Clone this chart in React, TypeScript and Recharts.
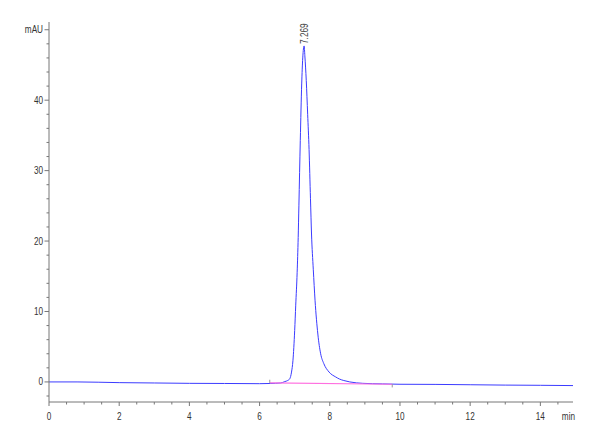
import { LineChart, Line, XAxis, YAxis, ReferenceDot, ReferenceLine } from 'recharts';

// chromatogram trace (min, mAU)
const traceTime = [
  0, 0.8, 2, 3, 4, 5, 6, 6.3, 6.6, 6.72, 6.8, 6.86, 6.91, 6.95, 7.0, 7.03, 7.07, 7.1, 7.12, 7.16, 7.2, 7.23, 7.269,
  7.29, 7.33, 7.37, 7.41, 7.45, 7.48, 7.53, 7.58, 7.66, 7.74, 7.83, 7.98, 8.17, 8.28, 8.4, 8.57, 8.94, 9.5,
  10, 11, 12, 13, 14, 14.93,
];
const traceAbs = [
  0, 0, -0.1, -0.15, -0.2, -0.22, -0.25, -0.22, -0.15, 0.05, 0.2, 0.45, 1.4, 3.0, 7.3, 10.9, 15.5, 20.5, 25, 34.3, 42.3, 46.0, 47.7,
  46.3, 42.8, 38, 33, 26, 21, 16, 11.6, 6.8, 4.0, 2.6, 1.4, 0.7, 0.4, 0.2, 0.0, -0.2, -0.28,
  -0.33, -0.35, -0.4, -0.45, -0.48, -0.52,
];

// integration baseline under the peak
const baselineTime = [6.29, 9.78];
const baselineAbs = [-0.14, -0.33];

const peakTime = 7.269;
const peakAbs = 47.7;
const peakName = '7.269';

const xTicks = [
  0, 0.5, 1, 1.5, 2, 2.5, 3, 3.5, 4, 4.5, 5, 5.5, 6, 6.5, 7, 7.5, 8, 8.5, 9, 9.5, 10, 10.5, 11, 11.5, 12, 12.5,
  13, 13.5, 14, 14.5, 14.8,
];
const xLabeled = [0, 2, 4, 6, 8, 10, 12, 14];
const xUnit = 'min';
const xUnitAt = 14.8;

const yTicks = [-2, 0, 2, 4, 6, 8, 10, 12, 14, 16, 18, 20, 22, 24, 26, 28, 30, 32, 34, 36, 38, 40, 42, 44, 46, 48, 50];
const yLabeled = [0, 10, 20, 30, 40];
const yUnit = 'mAU';
const yUnitAt = 50;

const trace = traceTime.map((t, i) => ({ t, y: traceAbs[i] }));
const baseline = baselineTime.map((t, i) => ({ t, y: baselineAbs[i] }));

const FONT = "'Liberation Sans', Arial, sans-serif";
const NARROW = 0.82; // squeeze text, no narrow font installed
const TEXT = '#333';
const AXIS = '#777';

function NarrowText({ x, y, anchor, children }: any) {
  return (
    <text
      transform={`translate(${x}, ${y}) scale(${NARROW}, 1)`}
      textAnchor={anchor}
      fontSize={10}
      fontFamily={FONT}
      fill={TEXT}
    >
      {children}
    </text>
  );
}

function XTick({ x, y, payload }: any) {
  const v = payload.value;
  if (v === xUnitAt) {
    return <NarrowText x={x} y={y + 18} anchor="middle">{xUnit}</NarrowText>;
  }
  const major = xLabeled.includes(v);
  return (
    <g>
      <line x1={x} y1={y} x2={x} y2={y + (major ? 4 : 2.5)} stroke={AXIS} />
      {major && <NarrowText x={x} y={y + 18} anchor="middle">{v}</NarrowText>}
    </g>
  );
}

function YTick({ x, y, payload }: any) {
  const v = payload.value;
  const major = yLabeled.includes(v) || v === yUnitAt;
  const label = v === yUnitAt ? yUnit : yLabeled.includes(v) ? String(v) : null;
  return (
    <g>
      <line x1={x} y1={y} x2={x - (major ? 4.5 : 2.5)} y2={y} stroke={AXIS} />
      {label && <NarrowText x={x - 6} y={y + 3.5} anchor="end">{label}</NarrowText>}
    </g>
  );
}

function PeakLabel({ cx, cy }: any) {
  return (
    <text
      transform={`translate(${cx + 3.5}, ${cy - 2}) rotate(-90) scale(${NARROW}, 1)`}
      fontSize={10}
      fontFamily={FONT}
      fill="#444"
    >
      {peakName}
    </text>
  );
}

export default function App() {
  return (
    <div style={{ position: 'absolute', left: 0, top: 0, width: 600, height: 440, background: '#fff' }}>
      <LineChart width={600} height={440} data={trace} margin={{ top: 22, right: 27, bottom: 0, left: 0 }}>
        <XAxis
          type="number"
          dataKey="t"
          domain={[0, 14.93]}
          ticks={xTicks}
          interval={0}
          height={38}
          stroke={AXIS}
          tickLine={false}
          tickSize={0}
          tickMargin={0}
          tick={<XTick />}
          allowDataOverflow
        />
        <YAxis
          type="number"
          dataKey="y"
          domain={[-2.85, 51.1]}
          ticks={yTicks}
          interval={0}
          width={49}
          stroke={AXIS}
          tickLine={false}
          tickSize={0}
          tickMargin={0}
          tick={<YTick />}
          allowDataOverflow
        />
        <Line
          type="monotone"
          dataKey="y"
          stroke="#3b3bff"
          strokeWidth={1}
          dot={false}
          isAnimationActive={false}
        />
        <Line
          data={baseline}
          type="linear"
          dataKey="y"
          stroke="#ff70e0"
          strokeWidth={1.2}
          dot={false}
          isAnimationActive={false}
        />
        <ReferenceLine
          segment={[{ x: baselineTime[0], y: baselineAbs[0] }, { x: baselineTime[0], y: baselineAbs[0] + 0.45 }]}
          stroke="#999"
        />
        <ReferenceLine
          segment={[{ x: baselineTime[1], y: baselineAbs[1] }, { x: baselineTime[1], y: baselineAbs[1] - 0.45 }]}
          stroke="#999"
        />
        <ReferenceDot x={peakTime} y={peakAbs} r={0} shape={<PeakLabel />} />
      </LineChart>
    </div>
  );
}
